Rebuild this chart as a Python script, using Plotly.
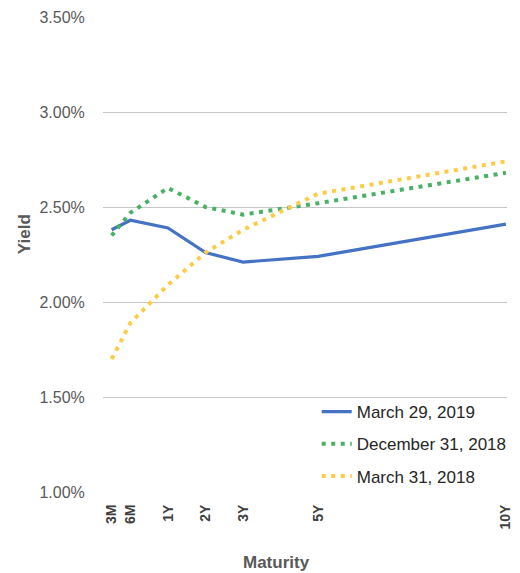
import plotly.graph_objects as go

tick_labels = ["3M", "6M", "1Y", "2Y", "3Y", "5Y", "10Y"]
maturity_pos = [-0.5, 0, 1, 2, 3, 5, 10]

yield_ticks = [1.0, 1.5, 2.0, 2.5, 3.0, 3.5]
yield_tick_labels = ["1.00%", "1.50%", "2.00%", "2.50%", "3.00%", "3.50%"]

series_names = ["March 29, 2019", "December 31, 2018", "March 31, 2018"]
mar_2019 = [2.38, 2.43, 2.39, 2.26, 2.21, 2.24, 2.41]
dec_2018 = [2.35, 2.47, 2.60, 2.50, 2.46, 2.52, 2.68]
mar_2018 = [1.70, 1.89, 2.09, 2.26, 2.38, 2.57, 2.74]

colors = ["#4472C4", "#47B264", "#FFCB45"]

fig = go.Figure()
fig.add_trace(go.Scatter(x=maturity_pos, y=mar_2019, mode="lines", name=series_names[0],
                         legendgroup="a", line=dict(color=colors[0], width=3.2)))
fig.add_trace(go.Scatter(x=maturity_pos, y=dec_2018, mode="lines", name=series_names[1],
                         legendgroup="b", line=dict(color=colors[1], width=4, dash="4px,5.5px")))
fig.add_trace(go.Scatter(x=maturity_pos, y=mar_2018, mode="lines", name=series_names[2],
                         legendgroup="c", line=dict(color=colors[2], width=4, dash="4px,5.5px")))

font_family = "Liberation Sans, Arial, sans-serif"

fig.update_layout(
    width=520, height=573,
    margin=dict(l=103, r=7, t=17, b=81),
    paper_bgcolor="white", plot_bgcolor="white",
    font=dict(family=font_family, color="#595959", size=16),
    showlegend=True,
    legend=dict(x=0.529, y=0.206, xanchor="left", yanchor="top",
                bgcolor="rgba(255,255,255,0)", tracegroupgap=7,
                font=dict(size=17, color="#262626")),
    xaxis=dict(range=[-0.73, 10.03], tickmode="array", tickvals=maturity_pos,
               ticktext=tick_labels, tickangle=-90, showgrid=False, zeroline=False,
               ticks="outside", ticklen=6, tickcolor="rgba(0,0,0,0)",
               tickfont=dict(size=14, color="#404040", family=font_family, weight="bold"),
               showline=False),
    yaxis=dict(range=[1.0, 3.5], tickmode="array", tickvals=yield_ticks,
               ticktext=yield_tick_labels, showgrid=True,
               gridcolor="#C6C6C6", gridwidth=1.3, zeroline=False,
               ticks="outside", ticklen=14, tickcolor="rgba(0,0,0,0)",
               tickfont=dict(size=16, color="#595959")),
)

fig.add_annotation(text="<b>Maturity</b>", xref="paper", yref="paper", x=(279 - 103) / 410,
                   y=-(562 - 492) / 475, showarrow=False, yanchor="middle",
                   font=dict(size=17, color="#595959"))
fig.add_annotation(text="<b>Yield</b>", xref="paper", yref="paper", x=-(103 - 23) / 410,
                   y=(492 - 234) / 475, showarrow=False, textangle=-90, xanchor="center",
                   yanchor="middle", font=dict(size=17, color="#595959"))

fig.write_html("out.html", config={"displayModeBar": False},
               post_script="document.body.style.margin='0';")
